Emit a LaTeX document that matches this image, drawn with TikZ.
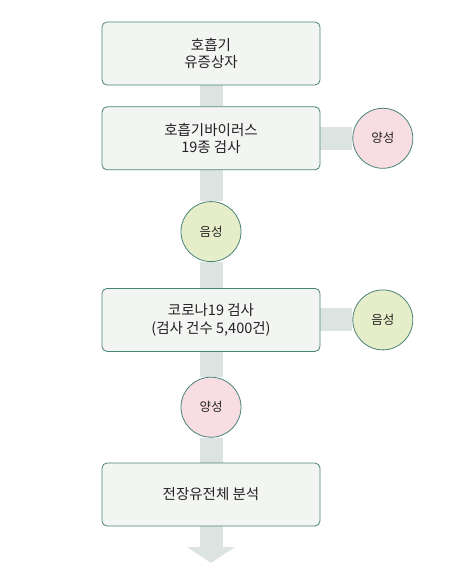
\documentclass[tikz,border=0pt]{standalone}
\usepackage{fontspec}
\setmainfont{Noto Sans CJK KR}
\usetikzlibrary{positioning,backgrounds,arrows.meta}
\definecolor{boxfill}{HTML}{F3F5F2}
\definecolor{boxline}{HTML}{4A8378}
\definecolor{bandgray}{HTML}{DCE4E1}
\definecolor{pinkfill}{HTML}{F8DEE3}
\definecolor{greenfill}{HTML}{E5EDC9}
\definecolor{ink}{HTML}{222222}
\tikzset{
	>=latex,
}
\begin{document}
\begin{tikzpicture}[x=1pt,y=-1pt,
		stage/.style={rectangle, rounded corners=5pt, draw=boxline, line width=0.8pt, fill=boxfill, minimum width=218pt, minimum height=63pt, align=center, font=\fontsize{14.5}{17.5}\selectfont, text=ink},
		result/.style={circle, draw=boxline, line width=0.8pt, minimum size=60pt, inner sep=0pt, font=\fontsize{12.5}{14}\selectfont, text=ink},
		plusres/.style={result, fill=pinkfill},
		minusres/.style={result, fill=greenfill},
		band/.style={draw=bandgray, line width=23pt},
	]
		\useasboundingbox (0,0) rectangle (464,568);
		\node(cases)[stage] at (211,53.5) {호흡기\\유증상자};
		\node(resp)[stage,below=21pt of cases] {호흡기바이러스\\19종 검사};
		\node(respPos)[plusres,right=32pt of resp] {양성};
		\node(respNeg)[minusres,below=31pt of resp] {음성};
		\node(covid)[stage,below=26pt of respNeg] {코로나19 검사\\(검사 건수 5,400건)};
		\node(covidNeg)[minusres,right=32pt of covid] {음성};
		\node(covidPos)[plusres,below=25pt of covid] {양성};
		\node(wgs)[stage,below=25pt of covidPos] {전장유전체 분석};
		\coordinate(tip) at (211,563);
		\begin{scope}[on background layer]
			\draw[band] (cases) -- (resp);
			\draw[band] (resp) -- (respPos);
			\draw[band] (resp) -- (respNeg) -- (covid);
			\draw[band] (covid) -- (covidNeg);
			\draw[band] (covid) -- (covidPos) -- (wgs);
			\draw[band,-{Triangle[length=16pt,width=47pt]}] (wgs.south) -- (tip);
		\end{scope}
	\end{tikzpicture}
\end{document}
